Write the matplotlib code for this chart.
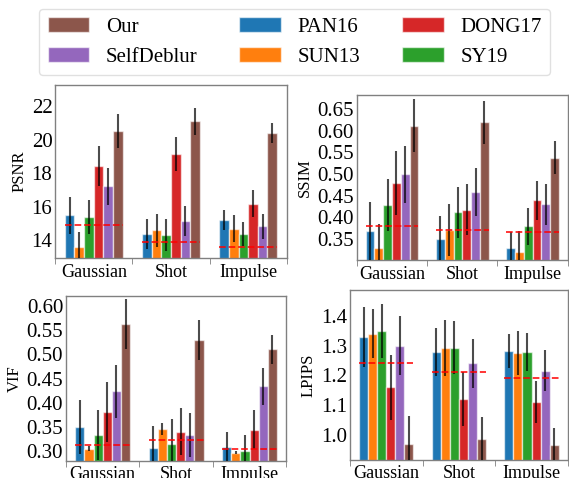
import numpy as np
import matplotlib
matplotlib.use("Agg")
import matplotlib.pyplot as plt

plt.rcParams['font.family'] = 'serif'
plt.rcParams['font.serif'] = ['Liberation Serif', 'Times New Roman', 'Nimbus Roman', 'DejaVu Serif']

# --- data ---
noises = ["Gaussian", "Shot", "Impulse"]
methods = ["PAN16", "SUN13", "SY19", "DONG17", "SelfDeblur", "Our"]
colors = ["#1f77b4", "#ff7f0e", "#2ca02c", "#d62728", "#9467bd", "#8c564b"]

# rows follow `methods`, columns follow `noises`
psnr_mean = [[15.49, 14.40, 15.20],
             [13.60, 14.60, 14.70],
             [15.39, 14.35, 14.40],
             [18.42, 19.15, 16.20],
             [17.22, 15.15, 14.85],
             [20.51, 21.10, 20.40]]
psnr_err = [[1.10, 0.90, 0.60],
            [0.90, 1.00, 0.80],
            [1.00, 0.95, 0.70],
            [1.20, 1.00, 0.80],
            [1.10, 0.90, 0.75],
            [1.00, 0.80, 0.60]]
psnr_base = [14.90, 13.90, 13.60]

ssim_mean = [[0.369, 0.349, 0.329],
             [0.329, 0.370, 0.320],
             [0.428, 0.412, 0.379],
             [0.479, 0.418, 0.439],
             [0.499, 0.459, 0.430],
             [0.611, 0.619, 0.538]]
ssim_err = [[0.067, 0.053, 0.038],
            [0.055, 0.060, 0.048],
            [0.060, 0.059, 0.042],
            [0.074, 0.058, 0.046],
            [0.066, 0.055, 0.047],
            [0.061, 0.049, 0.037]]
ssim_base = [0.380, 0.370, 0.367]

vif_mean = [[0.350, 0.307, 0.310],
            [0.306, 0.346, 0.297],
            [0.334, 0.316, 0.300],
            [0.382, 0.341, 0.345],
            [0.424, 0.334, 0.434],
            [0.563, 0.530, 0.511]]
vif_err = [[0.056, 0.046, 0.031],
           [0.006, 0.012, 0.003],
           [0.052, 0.050, 0.034],
           [0.062, 0.049, 0.040],
           [0.055, 0.045, 0.038],
           [0.052, 0.041, 0.030]]
vif_base = [0.314, 0.323, 0.305]

lpips_mean = [[1.329, 1.279, 1.282],
              [1.341, 1.291, 1.277],
              [1.350, 1.294, 1.280],
              [1.160, 1.120, 1.110],
              [1.300, 1.241, 1.216],
              [0.969, 0.985, 0.965]]
lpips_err = [[0.101, 0.080, 0.056],
             [0.082, 0.094, 0.074],
             [0.091, 0.089, 0.064],
             [0.109, 0.090, 0.071],
             [0.100, 0.083, 0.069],
             [0.093, 0.074, 0.057]]
lpips_base = [1.241, 1.211, 1.193]

legend_order = ["Our", "SelfDeblur", "PAN16", "SUN13", "DONG17", "SY19"]


def draw_panel(ax, means, errs, base, ylabel, ylim, yticks):
    x = np.arange(len(noises))
    w = 0.125
    handles = {}
    for k, m in enumerate(methods):
        pos = x + (k - 2.5) * w
        b = ax.bar(pos, means[k], w, color=colors[k],
                   edgecolor=(1, 1, 1, 0.6), linewidth=1.0, label=m, zorder=2)
        ax.errorbar(pos, means[k], yerr=errs[k], fmt='none', ecolor='black',
                    elinewidth=1.5, alpha=0.7, capsize=0, zorder=3)
        handles[m] = b
    # baseline of each group
    for i in range(len(noises)):
        ax.hlines(base[i], i - 3 * w, i + 3 * w, colors='red',
                  linestyles='--', linewidth=1.3, alpha=0.85, zorder=4)
    ax.set_xlim(-0.5, 2.5)
    ax.set_ylim(*ylim)
    ax.set_yticks(yticks)
    ax.set_xticks(x)
    ax.set_xticklabels(noises, fontsize=13)
    ax.set_xticks(np.arange(-0.5, 3, 1.0), minor=True)
    ax.tick_params(axis='x', which='major', length=0, pad=4)
    ax.tick_params(axis='x', which='minor', length=4, color='0.5')
    ax.tick_params(axis='y', length=0, labelsize=15, pad=2)
    ax.set_ylabel(ylabel, fontsize=12, labelpad=3)
    for sp in ax.spines.values():
        sp.set_color('0.5')
        sp.set_linewidth(1.0)
    return handles


fig = plt.figure(figsize=(5.69, 4.78), dpi=100)

ax1 = fig.add_axes([0.097, 0.460, 0.407, 0.362])
h = draw_panel(ax1, psnr_mean, psnr_err, psnr_base, "PSNR",
               (12.95, 23.25), [14, 16, 18, 20, 22])

ax2 = fig.add_axes([0.627, 0.456, 0.371, 0.345])
draw_panel(ax2, ssim_mean, ssim_err, ssim_base, "SSIM",
           (0.3015, 0.682), [0.35, 0.40, 0.45, 0.50, 0.55, 0.60, 0.65])

ax3 = fig.add_axes([0.116, 0.036, 0.387, 0.345])
draw_panel(ax3, vif_mean, vif_err, vif_base, "VIF",
           (0.2808, 0.6206), [0.30, 0.35, 0.40, 0.45, 0.50, 0.55, 0.60])

ax4 = fig.add_axes([0.615, 0.038, 0.383, 0.355])
draw_panel(ax4, lpips_mean, lpips_err, lpips_base, "LPIPS",
           (0.916, 1.487), [1.0, 1.1, 1.2, 1.3, 1.4])

fig.legend([h[m] for m in legend_order], legend_order, loc='center',
           bbox_to_anchor=(0.518, 0.912), ncol=3, fontsize=15,
           handlelength=2.0, columnspacing=2.0, frameon=True,
           edgecolor='0.85', fancybox=True)

fig.savefig("out.png", dpi=100)
